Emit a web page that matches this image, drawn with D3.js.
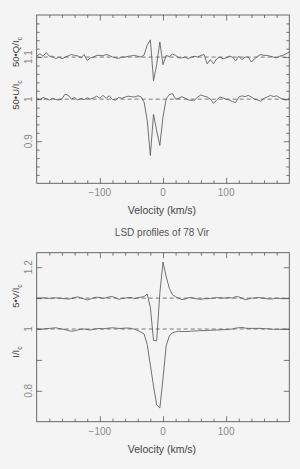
<!DOCTYPE html>
<html lang="en">
<head>
<meta charset="UTF-8">
<title>LSD profiles of 78 Vir</title>
<script src="https://cdn.jsdelivr.net/npm/d3@7"></script>
<style>
  body { margin: 0; background: #f4f4f4; }
  svg { display: block; }
  text { font-family: "Liberation Sans", Arial, sans-serif; }
</style>
</head>
<body>
<script>
// velocity grid of the LSD profiles (km/s)
const velocity = d3.range(-200, 201, 5);

// top panel: 50*Q/Ic (offset to 1.1) and 50*U/Ic (around 1.0)
const qProfile = [
  1.102, 1.108, 1.102, 1.111, 1.102, 1.102, 1.096, 1.100, 1.096, 1.100,
  1.103, 1.106, 1.104, 1.103, 1.098, 1.106, 1.092, 1.098, 1.100, 1.104,
  1.104, 1.103, 1.106, 1.104, 1.100, 1.098, 1.097, 1.100, 1.100, 1.102,
  1.103, 1.104, 1.102, 1.100, 1.105, 1.128, 1.141, 1.044, 1.082, 1.136,
  1.082, 1.104, 1.101, 1.107, 1.104, 1.098, 1.098, 1.100, 1.096, 1.100,
  1.102, 1.100, 1.104, 1.106, 1.084, 1.094, 1.084, 1.096, 1.100, 1.096,
  1.098, 1.102, 1.100, 1.091, 1.102, 1.094, 1.100, 1.100, 1.088, 1.096,
  1.102, 1.106, 1.104, 1.104, 1.102, 1.100, 1.098, 1.102, 1.104, 1.108,
  1.112
];
const uProfile = [
  1.002, 0.999, 1.004, 1.001, 0.998, 1.002, 0.999, 0.998, 1.001, 1.012,
  1.009, 1.000, 1.004, 0.998, 1.002, 0.999, 1.003, 1.000, 1.003, 1.007,
  1.002, 1.009, 1.002, 1.008, 0.999, 0.998, 1.004, 1.002, 1.005, 1.007,
  1.006, 1.005, 1.008, 1.006, 0.993, 0.950, 0.866, 0.964, 0.925, 0.890,
  0.958, 1.000, 1.011, 1.013, 1.000, 1.002, 1.006, 1.002, 0.998, 0.997,
  0.998, 1.005, 1.010, 1.007, 1.005, 1.000, 0.990, 0.998, 1.005, 1.003,
  1.000, 0.998, 0.994, 0.992, 1.005, 1.008, 1.006, 1.009, 1.005, 1.000,
  0.998, 0.995, 1.002, 1.005, 1.009, 1.006, 1.008, 1.003, 1.000, 0.998,
  1.002
];

// bottom panel: 5*V/Ic (offset to 1.1) and I/Ic
const vProfile = [
  1.100, 1.100, 1.101, 1.100, 1.099, 1.100, 1.101, 1.100, 1.099, 1.098,
  1.097, 1.099, 1.102, 1.104, 1.101, 1.097, 1.094, 1.097, 1.101, 1.103,
  1.102, 1.099, 1.101, 1.104, 1.105, 1.101, 1.096, 1.099, 1.100, 1.102,
  1.102, 1.098, 1.101, 1.103, 1.105, 1.113, 1.070, 0.963, 0.962, 1.116,
  1.217, 1.170, 1.132, 1.111, 1.104, 1.100, 1.095, 1.097, 1.101, 1.102,
  1.099, 1.097, 1.096, 1.098, 1.098, 1.099, 1.100, 1.102, 1.101, 1.100,
  1.101, 1.102, 1.100, 1.105, 1.104, 1.100, 1.095, 1.097, 1.100, 1.100,
  1.102, 1.101, 1.100, 1.098, 1.097, 1.098, 1.100, 1.099, 1.098, 1.099,
  1.100
];
const iProfile = [
  1.000, 1.000, 1.000, 1.001, 1.002, 1.003, 1.004, 1.002, 1.000, 0.998,
  0.995, 0.993, 0.994, 0.997, 0.999, 1.000, 0.998, 0.997, 0.999, 1.001,
  1.002, 1.000, 1.002, 1.003, 1.004, 1.003, 1.002, 1.002, 1.003, 1.003,
  1.002, 0.999, 0.995, 0.990, 0.984, 0.950, 0.883, 0.815, 0.755, 0.744,
  0.840, 0.946, 0.977, 0.988, 0.991, 0.993, 0.992, 0.992, 0.992, 0.993,
  0.994, 0.994, 0.995, 0.995, 0.995, 0.996, 0.996, 0.997, 0.997, 0.998,
  0.998, 0.999, 1.000, 1.003, 1.004, 1.005, 1.003, 1.002, 1.002, 1.002,
  1.002, 1.002, 1.001, 1.001, 1.000, 0.999, 0.999, 0.999, 0.999, 1.000,
  1.000
];

const xTickLabels = [-100, 0, 100];
const xMajorTicks = [-100, 0, 100];
const xMinorTicks = [-180, -160, -140, -120, -80, -60, -40, -20, 20, 40, 60, 80, 120, 140, 160, 180];
const topYLabels = [0.9, 1, 1.1];
const bottomYLabels = [0.8, 1, 1.2];
const title = 'LSD profiles of 78 Vir';

const W = 300, H = 469;
const left = 36.7, right = 289.3;
const ink = '#5a5a5a', tickInk = '#8a8a8a';

const svg = d3.select('body').append('svg')
  .attr('width', W).attr('height', H);

const x = d3.scaleLinear().domain([-200, 200]).range([left, right]);

function fmt(v) { return (Math.round(v * 10) / 10).toString().replace('-', '\u2212'); }

function panel(opts) {
  const y = d3.scaleLinear().domain(opts.yDomain).range([opts.bottom, opts.top]);
  const g = svg.append('g');

  // inward ticks on all four sides
  function ticks(axisFn, shift, values, size) {
    const a = g.append('g').attr('transform', shift)
      .call(axisFn.tickValues(values).tickSize(-size).tickFormat(''));
    a.select('.domain').remove();
    a.selectAll('line').attr('stroke', ink).attr('stroke-width', 0.8);
  }
  ticks(d3.axisBottom(x), `translate(0,${opts.bottom})`, xMinorTicks, 3);
  ticks(d3.axisBottom(x), `translate(0,${opts.bottom})`, xMajorTicks, 5.5);
  ticks(d3.axisTop(x), `translate(0,${opts.top})`, xMinorTicks, 3);
  ticks(d3.axisTop(x), `translate(0,${opts.top})`, xMajorTicks, 5.5);
  if (opts.yMinor.length) {
    ticks(d3.axisLeft(y), `translate(${left},0)`, opts.yMinor, 3);
    ticks(d3.axisRight(y), `translate(${right},0)`, opts.yMinor, 3);
  }
  ticks(d3.axisLeft(y), `translate(${left},0)`, opts.yMajor, 5.5);
  ticks(d3.axisRight(y), `translate(${right},0)`, opts.yMajor, 5.5);

  // frame
  g.append('rect')
    .attr('x', left).attr('y', opts.top)
    .attr('width', right - left).attr('height', opts.bottom - opts.top)
    .attr('fill', 'none').attr('stroke', ink).attr('stroke-width', 0.9);

  // x tick labels
  g.selectAll('.xl').data(xTickLabels).enter().append('text')
    .attr('x', d => x(d)).attr('y', opts.bottom + 13)
    .attr('text-anchor', 'middle').attr('font-size', 10)
    .attr('fill', tickInk).text(fmt);

  // y tick labels (rotated)
  g.selectAll('.yl').data(opts.yLabels).enter().append('text')
    .attr('transform', d => `translate(${left - 5},${y(d)}) rotate(-90)`)
    .attr('text-anchor', 'middle').attr('font-size', 10)
    .attr('fill', tickInk).text(fmt);

  // x title
  g.append('text')
    .attr('x', (left + right) / 2 - 1).attr('y', opts.bottom + 31)
    .attr('text-anchor', 'middle').attr('font-size', 10.5)
    .attr('fill', '#444').text('Velocity (km/s)');

  // y titles
  opts.yTitles.forEach(t => {
    const txt = g.append('text')
      .attr('transform', `translate(19,${t.y}) rotate(-90)`)
      .attr('text-anchor', 'middle').attr('font-size', 9.5)
      .attr('fill', '#444');
    txt.append('tspan').text(t.main);
    txt.append('tspan').attr('font-size', 7).attr('dy', 2.5).text('c');
  });

  // dashed reference levels
  g.selectAll('.ref').data(opts.refs).enter().append('line')
    .attr('x1', left).attr('x2', right)
    .attr('y1', d => y(d)).attr('y2', d => y(d))
    .attr('stroke', ink).attr('stroke-width', 0.8)
    .attr('stroke-dasharray', '4,3');

  // profiles
  const line = d3.line().x((d, i) => x(velocity[i])).y(d => y(d));
  opts.series.forEach(s => {
    g.append('path').datum(s)
      .attr('d', line)
      .attr('fill', 'none').attr('stroke', ink)
      .attr('stroke-width', 0.85).attr('stroke-linejoin', 'round');
  });
}

panel({
  top: 15, bottom: 183.3,
  yDomain: [0.8, 1.2],
  yMajor: [0.9, 1.0, 1.1],
  yMinor: [0.82, 0.84, 0.86, 0.88, 0.92, 0.94, 0.96, 0.98, 1.02, 1.04, 1.06, 1.08, 1.12, 1.14, 1.16, 1.18],
  yLabels: topYLabels,
  yTitles: [{ y: 52, main: '50\u2022Q/I' }, { y: 95, main: '50\u2022U/I' }],
  refs: [1.1, 1.0],
  series: [qProfile, uProfile]
});

panel({
  top: 252.7, bottom: 421.7,
  yDomain: [0.7, 1.247],
  yMajor: [0.8, 0.9, 1.0, 1.1, 1.2],
  yMinor: [],
  yLabels: bottomYLabels,
  yTitles: [{ y: 296, main: '5\u2022V/I' }, { y: 352, main: 'I/I' }],
  refs: [1.1, 1.0],
  series: [vProfile, iProfile]
});

svg.append('text')
  .attr('x', 162).attr('y', 235.5)
  .attr('text-anchor', 'middle').attr('font-size', 10)
  .attr('fill', '#555').text(title);
</script>
</body>
</html>
